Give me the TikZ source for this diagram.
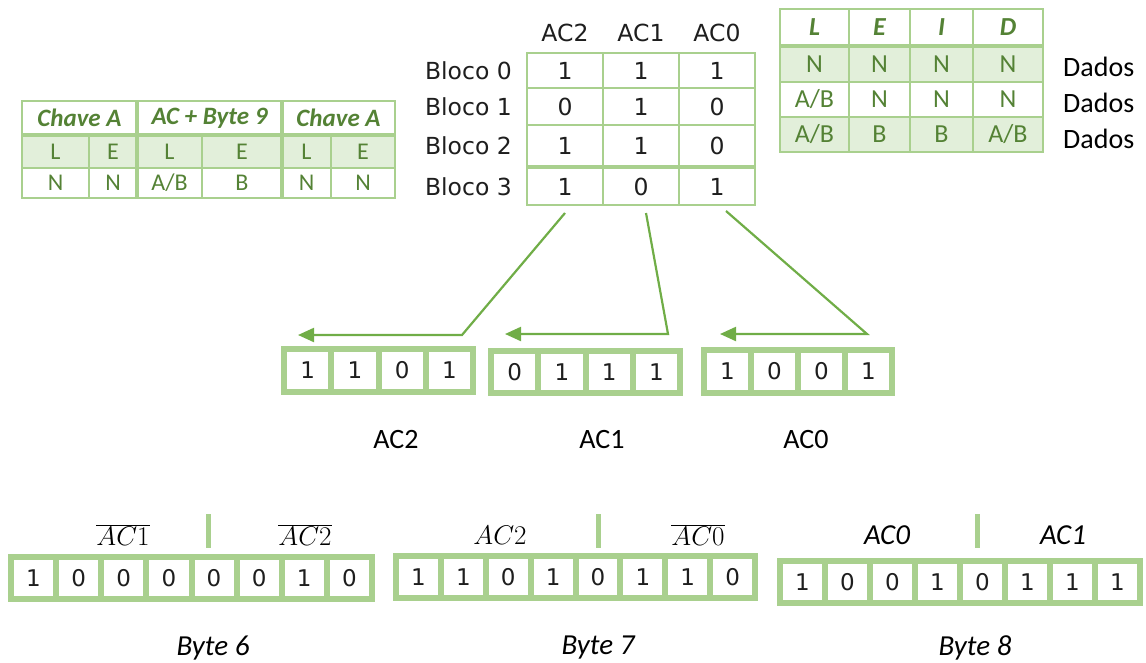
\RequirePackage{fix-cm}
\documentclass[tikz,border=0pt]{standalone}
\usepackage{fontspec}
\setmainfont{Carlito}
\newfontfamily\dvs{DejaVu Sans}
\usetikzlibrary{arrows.meta}

\definecolor{gframe}{HTML}{A9D08E}
\definecolor{gfill}{HTML}{E2EFDA}
\definecolor{gtext}{HTML}{548235}
\definecolor{garrow}{HTML}{70AD47}
\definecolor{ink}{HTML}{1E1E1E}

% a framed strip of bit cells: name, x0, y0, width, height, count, digits
\newcommand\bitstrip[7]{%
  \node[fill=gframe, inner sep=0pt, minimum width=#4pt, minimum height=#5pt,
        anchor=north west] (#1) at (#2,#3) {};
  \pgfmathsetmacro\cellw{(#4-6*(#6+1))/#6}
  \foreach \d [count=\i] in {#7} {
    \pgfmathsetmacro\cellx{#2+6+(\i-1)*(\cellw+6)}
    \fill[white] (\cellx,#3+6) rectangle ++(\cellw,#5-12);
    \node[bit] (#1-\i) at (\cellx+\cellw/2,#3+#5/2) {\d};
  }
}

\begin{document}
\begin{tikzpicture}[x=1pt,y=-1pt,
  tabtxt/.style={text=gtext, inner sep=0pt, font=\fontsize{24}{28}\selectfont},
  tabhead/.style={text=gtext, inner sep=0pt, font=\fontsize{25}{29}\selectfont\bfseries\itshape},
  rtxt/.style={text=gtext, inner sep=0pt, font=\fontsize{26}{30}\selectfont},
  rhead/.style={text=gtext, inner sep=0pt, font=\fontsize{26}{30}\selectfont\bfseries\itshape},
  blk/.style={text=ink, inner sep=0pt, font=\dvs\fontsize{23.5}{27}\selectfont},
  bit/.style={text=ink, inner sep=0pt, font=\dvs\fontsize{23}{27}\selectfont},
  lab/.style={text=black, inner sep=0pt, font=\fontsize{28}{32}\selectfont},
  ilab/.style={text=black, inner sep=0pt, font=\fontsize{29}{33}\selectfont\itshape},
  mlab/.style={text=black, inner sep=0pt, font=\fontsize{27}{31}\selectfont},
  thin/.style={draw=gframe, line width=1.6pt},
  thick/.style={draw=gframe, line width=4pt},
  bar/.style={fill=gframe, inner sep=0pt, minimum width=5pt, minimum height=34pt},
  conn/.style={draw=garrow, line width=2.2pt, -{Triangle[length=16pt,width=14pt]}},
]
\useasboundingbox (0,0) rectangle (1146,662);

% ---------- left table: access conditions of the trailer ----------
\fill[gfill] (22,135) rectangle (395,168);
\draw[thin] (22,101) rectangle (395,198);
\draw[thin] (22,168) -- (395,168);
\foreach \x in {89,202,331} \draw[thin] (\x,135) -- (\x,198);
\draw[thick] (22,135) -- (395,135);
\foreach \x in {137,282} \draw[thick] (\x,101) -- (\x,198);
\node[tabhead] (lh1) at (79.5,118) {Chave A};
\node[tabhead] (lh2) at (209.5,118) {AC + Byte 9};
\node[tabhead] (lh3) at (338.5,118) {Chave A};
\foreach \x/\t [count=\i] in {55.5/L,113/E,169.5/L,242/E,306.5/L,363/E}
  \node[tabtxt] (lr\i) at (\x,151.5) {\t};
\foreach \x/\t [count=\i] in {55.5/N,113/N,169.5/{A/B},242/B,306.5/N,363/N}
  \node[tabtxt] (ln\i) at (\x,183) {\t};

% ---------- centre table: access bits per block ----------
\node[blk] (hac2) at (565,33) {AC2};
\node[blk] (hac1) at (641,33) {AC1};
\node[blk] (hac0) at (717,33) {AC0};
\draw[thin] (527,53) rectangle (755,205);
\foreach \x in {603,679} \draw[thin] (\x,53) -- (\x,205);
\foreach \y in {88,125} \draw[thin] (527,\y) -- (755,\y);
\draw[draw=gframe, line width=4.5pt] (527,167) -- (755,167);
\foreach \y/\a/\b/\c [count=\r from 0] in {71/1/1/1,107/0/1/0,146/1/1/0,187/1/0/1} {
  \node[blk, anchor=east] (bl\r) at (512,\y) {Bloco \r};
  \node[blk] (c\r2) at (565,\y) {\a};
  \node[blk] (c\r1) at (641,\y) {\b};
  \node[blk] (c\r0) at (717,\y) {\c};
}

% ---------- right table: data block permissions ----------
\fill[gfill] (780,46) rectangle (1043,82);
\fill[gfill] (780,117) rectangle (1043,152);
\draw[thin] (780,9) rectangle (1043,152);
\foreach \y in {82,117} \draw[thin] (780,\y) -- (1043,\y);
\foreach \x in {849,910,973} \draw[thin] (\x,9) -- (\x,152);
\draw[draw=gframe, line width=3.5pt] (780,46) -- (1043,46);
\foreach \x/\t [count=\i] in {814.5/L,879.5/E,941.5/I,1008/D}
  \node[rhead] (rh\i) at (\x,27.5) {\t};
\foreach \x/\t [count=\i] in {814.5/N,879.5/N,941.5/N,1008/N}
  \node[rtxt] (ra\i) at (\x,64) {\t};
\foreach \x/\t [count=\i] in {814.5/{A/B},879.5/N,941.5/N,1008/N}
  \node[rtxt] (rb\i) at (\x,99.5) {\t};
\foreach \x/\t [count=\i] in {814.5/{A/B},879.5/B,941.5/B,1008/{A/B}}
  \node[rtxt] (rc\i) at (\x,134.5) {\t};
\foreach \y [count=\i] in {67,103,139}
  \node[lab, anchor=west] (dados\i) at (1063,\y) {Dados};

% ---------- bit columns of block 3 ----------
\bitstrip{s2}{281}{346}{195}{49}{4}{1,1,0,1}
\bitstrip{s1}{488}{348}{195}{48}{4}{0,1,1,1}
\bitstrip{s0}{701}{347}{194}{49}{4}{1,0,0,1}
\node[lab] (l2) at (396,440) {AC2};
\node[lab] (l1) at (602,440) {AC1};
\node[lab] (l0) at (806,440) {AC0};

\coordinate (a2s) at (565,213); \coordinate (a2k) at (462,335); \coordinate (a2t) at (298,335);
\coordinate (a1s) at (646,213); \coordinate (a1k) at (668,334); \coordinate (a1t) at (505,334);
\coordinate (a0s) at (726,211); \coordinate (a0k) at (867,334); \coordinate (a0t) at (720,334);
\draw[conn] (a2s) -- (a2k) -- (a2t);
\draw[conn] (a1s) -- (a1k) -- (a1t);
\draw[conn] (a0s) -- (a0k) -- (a0t);

% ---------- bytes 6, 7 and 8 ----------
\bitstrip{b6}{8}{554}{367}{48}{8}{1,0,0,0,0,0,1,0}
\bitstrip{b7}{393}{553}{365}{48}{8}{1,1,0,1,0,1,1,0}
\bitstrip{b8}{777}{558}{366}{48}{8}{1,0,0,1,0,1,1,1}

\node[bar] (d6) at (208,531) {};
\node[bar] (d7) at (598,531) {};
\node[bar] (d8) at (977,531) {};

\node[mlab] (n6a) at (123,535) {$\overline{AC1}$};
\node[mlab] (n6b) at (305,535) {$\overline{AC2}$};
\node[mlab] (n7a) at (500,535) {$AC2$};
\node[mlab] (n7b) at (698,535) {$\overline{AC0}$};
\node[ilab] (n8a) at (887,535) {AC0};
\node[ilab] (n8b) at (1063,535) {AC1};

\node[ilab] (by6) at (213,648) {Byte 6};
\node[ilab] (by7) at (598,648) {Byte 7};
\node[ilab] (by8) at (975,648) {Byte 8};
\end{tikzpicture}
\end{document}
